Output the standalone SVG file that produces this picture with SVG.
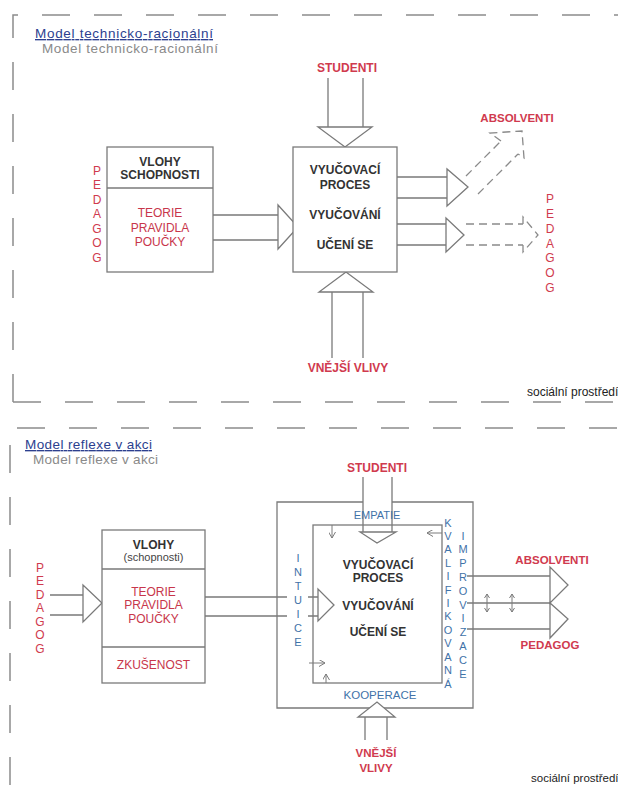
<svg xmlns="http://www.w3.org/2000/svg" width="618" height="785" viewBox="0 0 618 785">
<style>
  .bg{fill:#ffffff}
  .frame{fill:none;stroke:#8c8c8c;stroke-width:1.5;stroke-dasharray:28 24}
  .box{fill:#ffffff;stroke:#7a7a7a;stroke-width:1.3}
  .ln{fill:none;stroke:#7a7a7a;stroke-width:1.3}
  .tri{fill:#ffffff;stroke:#7a7a7a;stroke-width:1.3;stroke-linejoin:miter}
  .dash{fill:none;stroke:#8a8a8a;stroke-width:1.3;stroke-dasharray:8 5}
  .small{fill:none;stroke:#7a7a7a;stroke-width:1}
  text{font-family:"Liberation Sans",Arial,sans-serif}
  .dark{fill:#333333;font-weight:bold;font-size:12px;text-anchor:middle}
  .red{fill:#c8364b;font-size:12px;text-anchor:middle}
  .redb{fill:#d03a4e;font-size:12px;font-weight:bold;text-anchor:middle}
  .blue{fill:#3f72a8;font-size:11px;text-anchor:middle}
  .vred{fill:#d03a4e;font-size:12px;text-anchor:middle}
  .title{fill:#2c3f8f;font-size:13.5px;text-decoration:underline}
  .shadow{fill:#8a8a8a;font-size:13.5px}
  .note{fill:#222222;font-size:12px}
  .paren{fill:#444444;font-size:11px;text-anchor:middle}
</style>
<defs>
  <marker id="ah" markerWidth="7" markerHeight="7" refX="6" refY="3.5" orient="auto-start-reverse" markerUnits="userSpaceOnUse">
    <path d="M0,0 L6,3.5 L0,7" fill="none" stroke="#7a7a7a" stroke-width="1"/>
  </marker>
  <marker id="ahs" markerWidth="5" markerHeight="6" refX="4" refY="3" orient="auto-start-reverse" markerUnits="userSpaceOnUse">
    <path d="M0,0.5 L4,3 L0,5.5" fill="none" stroke="#7a7a7a" stroke-width="1"/>
  </marker>
</defs>
<rect class="bg" x="0" y="0" width="618" height="785"/>

<!-- ===== TOP SECTION ===== -->
<g id="frame-top">
  <path class="frame" d="M13,402 V15 H618"/>
  <path class="frame" d="M13,402 H618"/>
  <text class="title" x="35" y="38" textLength="178" lengthAdjust="spacing">Model technicko-racionální</text>
  <text class="shadow" x="42" y="53" textLength="176" lengthAdjust="spacing">Model technicko-racionální</text>
  <text class="note" x="527" y="396">sociální prostředí</text>
</g>

<g id="connectors-top">
  <path class="ln" d="M213,215 H278 M213,240 H278"/>
  <polygon class="tri" points="278,205 278,249 298,227"/>
  <path class="ln" d="M328,78 V127 M363,78 V127"/>
  <polygon class="tri" points="318,127 372,127 345,147"/>
  <path class="ln" d="M332,292 V358 M363,292 V358"/>
  <polygon class="tri" points="319,292 373,292 346,272"/>
  <path class="ln" d="M397,177 H447 M397,198 H447"/>
  <polygon class="tri" points="447,169 447,206 468,187"/>
  <path class="ln" d="M397,224 H446 M397,245 H446"/>
  <polygon class="tri" points="446,218 446,252 464,235"/>
  <path class="dash" d="M466,176 L501,141 M478,194 L518,154"/>
  <path class="dash" d="M501,141 L490,133 L522,131 L524,158 L518,154"/>
  <path class="dash" d="M466,224 H523 M466,245 H523"/>
  <path class="dash" d="M523,224 V217 L538,235 L523,252 V245"/>
</g>

<g id="node-pedagog-box-top">
  <rect class="box" x="107" y="147" width="106" height="125"/>
  <line class="ln" x1="107" y1="188" x2="213" y2="188"/>
  <text class="dark" x="160" y="166">VLOHY</text>
  <text class="dark" x="160" y="179">SCHOPNOSTI</text>
  <text class="red" x="160" y="217">TEORIE</text>
  <text class="red" x="160" y="232">PRAVIDLA</text>
  <text class="red" x="160" y="246">POUČKY</text>
</g>

<g id="node-pedagog-left-top">
  <text class="vred"><tspan x="97" y="174.5">P</tspan><tspan x="97" y="189">E</tspan><tspan x="97" y="203.5">D</tspan><tspan x="97" y="218">A</tspan><tspan x="97" y="232.5">G</tspan><tspan x="97" y="247">O</tspan><tspan x="97" y="261.5">G</tspan></text>
</g>

<g id="node-process-top">
  <rect class="box" x="293" y="147" width="104" height="125"/>
  <text class="dark" x="345" y="174">VYUČOVACÍ</text>
  <text class="dark" x="345" y="189">PROCES</text>
  <text class="dark" x="345" y="219">VYUČOVÁNÍ</text>
  <text class="dark" x="345" y="249">UČENÍ SE</text>
</g>

<g id="node-studenti-top"><text class="redb" x="347" y="72">STUDENTI</text></g>
<g id="node-vlivy-top"><text class="redb" x="348" y="372">VNĚJŠÍ VLIVY</text></g>
<g id="node-absolventi-top"><text class="redb" x="517" y="122" style="font-size:11.5px">ABSOLVENTI</text></g>
<g id="node-pedagog-right-top">
  <text class="vred"><tspan x="550" y="202.5">P</tspan><tspan x="550" y="217.5">E</tspan><tspan x="550" y="232.5">D</tspan><tspan x="550" y="247.5">A</tspan><tspan x="550" y="262">G</tspan><tspan x="550" y="277">O</tspan><tspan x="550" y="291.5">G</tspan></text>
</g>

<!-- ===== BOTTOM SECTION ===== -->
<g id="frame-bottom">
  <path class="frame" d="M10,785 V428 H618"/>
  <text class="title" x="25" y="449" textLength="127" lengthAdjust="spacing">Model reflexe v akci</text>
  <text class="shadow" x="33" y="464" textLength="125" lengthAdjust="spacing">Model reflexe v akci</text>
  <text class="note" x="531" y="782" style="font-size:11.5px">sociální prostředí</text>
</g>

<g id="node-outer-box">
  <path class="ln" d="M363,502 H277 V708 H473 V502 H392"/>
</g>
<g id="node-inner-box">
  <rect class="box" x="313" y="525" width="129" height="158" style="fill:none"/>
</g>

<g id="connectors-bottom">
  <path class="ln" d="M50,595 H83 M50,615 H83"/>
  <polygon class="tri" points="83,585 83,622 102,603"/>
  <path class="ln" d="M205,597 H287 M205,616 H287 M308,597 H318 M308,616 H318"/>
  <polygon class="tri" points="318,589 318,621 334,605"/>
  <path class="ln" d="M363,477 V532 M392,477 V532"/>
  <polygon class="tri" points="360,532 396,532 377,543"/>
  <path class="ln" d="M365,717 V740 M387,717 V740"/>
  <polygon class="tri" points="358,717 395,717 377,702"/>
  <path class="small" d="M332,525 V538" marker-end="url(#ah)"/>
  <path class="small" d="M442,533 H427" marker-end="url(#ah)"/>
  <path class="small" d="M309,663 H325" marker-end="url(#ah)"/>
  <path class="small" d="M326,683 V674" marker-end="url(#ah)"/>
  <path class="ln" d="M467,576 H550 M467,603 H550 M467,629 H550"/>
  <polygon class="tri" points="550,567 550,603 568,585"/>
  <polygon class="tri" points="550,603 550,638 568,619"/>
  <path class="small" d="M487,594 V612" marker-start="url(#ahs)" marker-end="url(#ahs)"/>
  <path class="small" d="M512,594 V612" marker-start="url(#ahs)" marker-end="url(#ahs)"/>
</g>

<g id="node-pedagog-box-bottom">
  <rect class="box" x="102" y="530" width="103" height="153"/>
  <path class="ln" d="M102,569 H205 M102,647 H205"/>
  <text class="dark" x="153.5" y="549">VLOHY</text>
  <text class="paren" x="153.5" y="561">(schopnosti)</text>
  <text class="red" x="153.5" y="596">TEORIE</text>
  <text class="red" x="153.5" y="609">PRAVIDLA</text>
  <text class="red" x="153.5" y="623">POUČKY</text>
  <text class="red" x="153.5" y="669">ZKUŠENOST</text>
</g>

<g id="node-pedagog-left-bottom">
  <text class="vred"><tspan x="40" y="571.5">P</tspan><tspan x="40" y="585">E</tspan><tspan x="40" y="598.5">D</tspan><tspan x="40" y="612">A</tspan><tspan x="40" y="625.5">G</tspan><tspan x="40" y="639">O</tspan><tspan x="40" y="652.5">G</tspan></text>
</g>

<g id="node-process-bottom">
  <text class="dark" x="378" y="569">VYUČOVACÍ</text>
  <text class="dark" x="378" y="582">PROCES</text>
  <text class="dark" x="378" y="610">VYUČOVÁNÍ</text>
  <text class="dark" x="378" y="636">UČENÍ SE</text>
</g>

<g id="node-empatie"><text class="blue" x="377" y="519">EMPATIE</text></g>
<g id="node-kooperace"><text class="blue" x="380" y="699" style="font-size:11.5px">KOOPERACE</text></g>
<g id="node-intuice">
  <text class="blue"><tspan x="298" y="561.5">I</tspan><tspan x="298" y="575.5">N</tspan><tspan x="298" y="589.5">T</tspan><tspan x="298" y="603.5">U</tspan><tspan x="298" y="617.5">I</tspan><tspan x="298" y="631.5">C</tspan><tspan x="298" y="645.5">E</tspan></text>
</g>
<g id="node-kvalifikovana">
  <text class="blue"><tspan x="448" y="526.5">K</tspan><tspan x="448" y="540">V</tspan><tspan x="448" y="553.3">A</tspan><tspan x="448" y="566.7">L</tspan><tspan x="448" y="580">I</tspan><tspan x="448" y="593.5">F</tspan><tspan x="448" y="607">I</tspan><tspan x="448" y="620.3">K</tspan><tspan x="448" y="633.7">O</tspan><tspan x="448" y="647">V</tspan><tspan x="448" y="660.5">A</tspan><tspan x="448" y="674">N</tspan><tspan x="448" y="687.5">Á</tspan></text>
</g>
<g id="node-improvizace">
  <text class="blue"><tspan x="463" y="539.5">I</tspan><tspan x="463" y="553.3">M</tspan><tspan x="463" y="567">P</tspan><tspan x="463" y="581">R</tspan><tspan x="463" y="594.7">O</tspan><tspan x="463" y="608.5">V</tspan><tspan x="463" y="622.3">I</tspan><tspan x="463" y="636">Z</tspan><tspan x="463" y="650">A</tspan><tspan x="463" y="663.7">C</tspan><tspan x="463" y="677.5">E</tspan></text>
</g>

<g id="node-studenti-bottom"><text class="redb" x="377" y="472">STUDENTI</text></g>
<g id="node-vlivy-bottom">
  <text class="redb" x="376" y="757" style="font-size:11.5px">VNĚJŠÍ</text>
  <text class="redb" x="376" y="772" style="font-size:11.5px">VLIVY</text>
</g>
<g id="node-absolventi-bottom"><text class="redb" x="552" y="564" style="font-size:11.5px">ABSOLVENTI</text></g>
<g id="node-pedagog-out-bottom"><text class="redb" x="550" y="649" style="font-size:11.5px">PEDAGOG</text></g>
</svg>
